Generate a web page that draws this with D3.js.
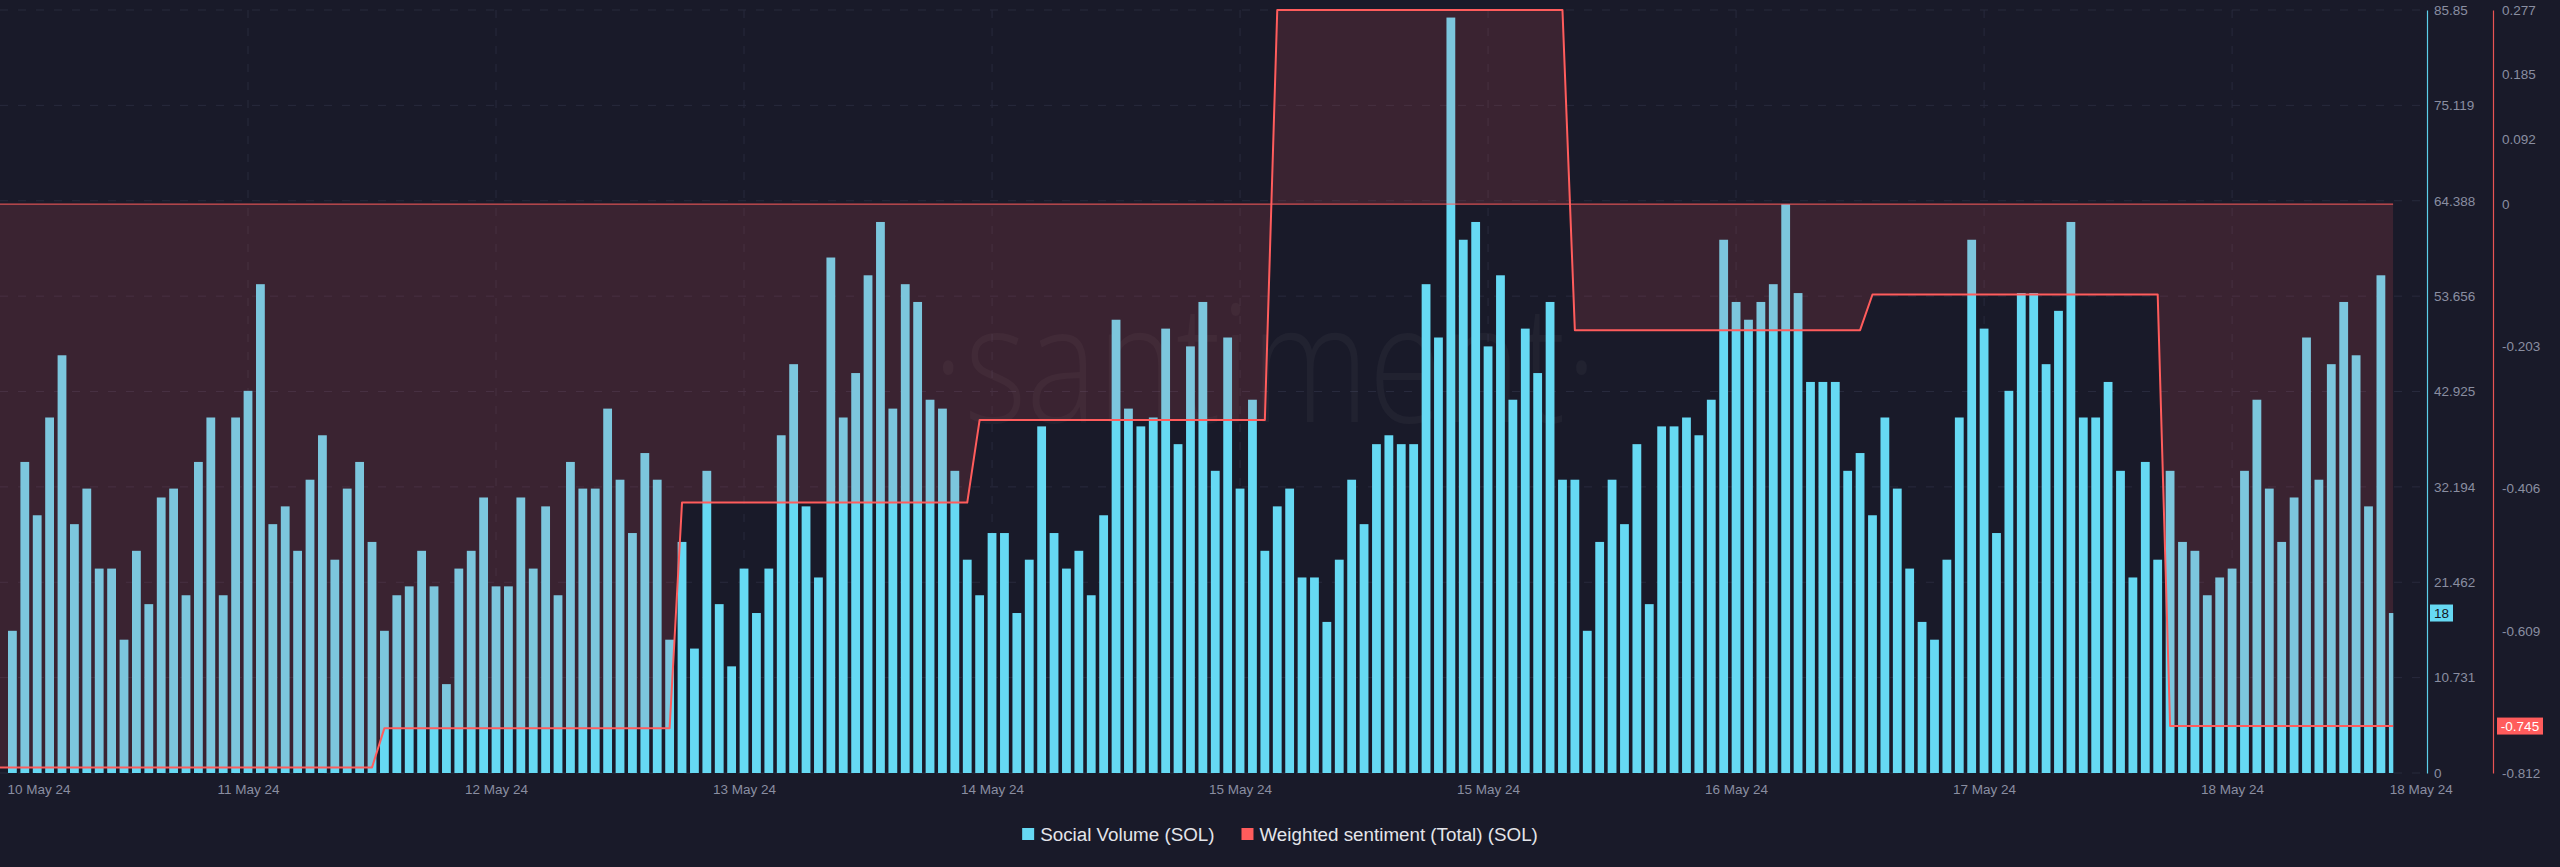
<!DOCTYPE html>
<html><head><meta charset="utf-8">
<script src="https://cdn.jsdelivr.net/npm/d3@7"></script>
<style>
html,body{margin:0;padding:0;background:#191a29;overflow:hidden;}
svg{display:block;}
</style></head><body>
<svg id="chart" width="2560" height="867"></svg>
<script>
// ---- data ----
const socialVolume = [
  16,35,29,40,47,28,32,23,23,15,
  25,19,31,32,20,35,40,20,40,43,
  55,28,30,25,33,38,24,32,35,26,
  16,20,21,25,21,10,23,25,31,21,
  21,31,23,30,20,35,32,32,41,33,
  27,36,33,15,26,14,34,19,12,23,
  18,23,38,46,30,22,58,40,45,56,
  62,41,55,53,42,41,34,24,20,27,
  27,18,24,39,27,23,25,20,29,51,
  41,39,40,50,37,48,53,34,49,32,
  42,25,30,32,22,22,17,24,33,28,
  37,38,37,37,55,49,85,60,62,48,
  56,42,50,45,53,33,33,16,26,33,
  28,37,19,39,39,40,38,42,60,53,
  51,53,55,64,54,44,44,44,34,36,
  29,40,32,23,17,15,24,40,60,50,
  27,43,54,54,46,52,62,40,40,44,
  34,22,35,24,34,26,25,20,22,23,
  34,42,32,26,31,49,33,46,53,47,
  30,56,18
];
// weighted sentiment: constant levels over hourly index ranges
const sentimentLevels = [-0.804, -0.748, -0.426, -0.308, 0.277, -0.180, -0.129, -0.745];
const sentimentStart  = [-1, 30, 54, 78, 102, 126, 150, 174];
const sentimentEnd    = [29, 53, 77, 101, 125, 149, 173, 192];

const volumeTicks = [0, 10.731, 21.462, 32.194, 42.925, 53.656, 64.388, 75.119, 85.85];
const sentimentTicks = [0.277, 0.185, 0.092, 0, -0.203, -0.406, -0.609, -0.812];
const xTickIndex = [-1, 19, 39, 59, 79, 99, 119, 139, 159, 179, 192];
const xTickLabels = ["10 May 24","11 May 24","12 May 24","13 May 24","14 May 24","15 May 24","15 May 24","16 May 24","17 May 24","18 May 24","18 May 24"];
const legendLabels = ["Social Volume (SOL)", "Weighted sentiment (Total) (SOL)"];
const watermarkText = "\u00B7santiment\u00B7";

// ---- styling / layout ----
const C = {
  bg:"#191a29", grid:"#282a3d", bar:"#66d9f3", red:"#ff5c5c", fill:"rgba(255,90,97,0.145)",
  tick:"#8a8ea1", legend:"#e4e5ea", cyanAxis:"#5ccfea", redAxis:"#e85454"
};
const plotTop = 10, plotBottom = 773, plotRight = 2393.3;
const volAxisX = 2427, sentAxisX = 2493;

const svg = d3.select("#chart");
svg.append("rect").attr("width",2560).attr("height",867).attr("fill",C.bg);

const N = socialVolume.length;
const x = d3.scaleLinear().domain([-1, N-1]).range([0, plotRight]);
const yV = d3.scaleLinear().domain([0, 85.85]).range([plotBottom, plotTop]);
const yS = d3.scaleLinear().domain([-0.812, 0.277]).range([plotBottom, plotTop]);
const step = x(1) - x(0);
const barW = step * 0.71;

svg.append("defs").append("clipPath").attr("id","plotClip")
  .append("rect").attr("x",0).attr("y",0).attr("width",plotRight).attr("height",plotBottom);

// gridlines
const grid = svg.append("g");
grid.selectAll("line.h").data(volumeTicks).join("line")
  .attr("x1",0).attr("x2",2420).attr("y1",d=>yV(d)).attr("y2",d=>yV(d))
  .attr("stroke",C.grid).attr("stroke-width",1).attr("stroke-dasharray","8,10");
grid.selectAll("line.v").data(xTickIndex.slice(1,-1)).join("line")
  .attr("x1",d=>x(d)).attr("x2",d=>x(d)).attr("y1",plotTop).attr("y2",plotBottom)
  .attr("stroke",C.grid).attr("stroke-width",1).attr("stroke-dasharray","8,10");

// watermark
svg.append("text").text(watermarkText)
  .attr("x", x(101)).attr("y", 422)
  .attr("text-anchor","middle")
  .attr("font-family","'Open Sans', sans-serif").attr("font-weight",300)
  .attr("font-size",164)
  .attr("textLength",665).attr("lengthAdjust","spacingAndGlyphs")
  .attr("fill","#ffffff").attr("fill-opacity",0.035);

const plot = svg.append("g").attr("clip-path","url(#plotClip)");

// bars
plot.selectAll("rect.bar").data(socialVolume).join("rect")
  .attr("class","bar")
  .attr("x",(d,i)=>x(i)-barW/2).attr("width",barW)
  .attr("y",d=>yV(d)).attr("height",d=>yV(0)-yV(d))
  .attr("fill",C.bar);

// sentiment vertices
const sentPts = [];
sentimentLevels.forEach((v,k)=>{
  sentPts.push([sentimentStart[k], v]);
  sentPts.push([sentimentEnd[k], v]);
});

plot.append("path").datum(sentPts)
  .attr("d", d3.area().x(d=>x(d[0])).y0(yS(0)).y1(d=>yS(d[1])))
  .attr("fill",C.fill);

plot.append("line")
  .attr("x1",x(-1)).attr("x2",x(N-1)).attr("y1",yS(0)).attr("y2",yS(0))
  .attr("stroke",C.red).attr("stroke-width",1.2).attr("stroke-opacity",0.8);

plot.append("path").datum(sentPts)
  .attr("d", d3.line().x(d=>x(d[0])).y(d=>yS(d[1])))
  .attr("fill","none").attr("stroke",C.red).attr("stroke-width",2).attr("stroke-linejoin","round");

// axes
const fontAxis = "'Liberation Sans', Arial, sans-serif";
const vAxis = svg.append("g").attr("transform",`translate(${volAxisX},0)`)
  .call(d3.axisRight(yV).tickValues(volumeTicks).tickFormat(d=>String(d)).tickSize(0).tickPadding(7));
vAxis.select(".domain").attr("stroke",C.cyanAxis).attr("stroke-width",1.2);
vAxis.selectAll("text").attr("fill",C.tick).attr("font-family",fontAxis).attr("font-size",13.5);

const sAxis = svg.append("g").attr("transform",`translate(${sentAxisX},0)`)
  .call(d3.axisRight(yS).tickValues(sentimentTicks).tickFormat(d=>String(d)).tickSize(0).tickPadding(9));
sAxis.select(".domain").attr("stroke",C.redAxis).attr("stroke-width",1.2);
sAxis.selectAll("text").attr("fill",C.tick).attr("font-family",fontAxis).attr("font-size",13.5);

const xAxis = svg.append("g").attr("transform",`translate(0,${plotBottom})`)
  .call(d3.axisBottom(x).tickValues(xTickIndex).tickFormat((d,i)=>xTickLabels[i]).tickSize(0).tickPadding(11));
xAxis.select(".domain").remove();
xAxis.selectAll("text").attr("fill",C.tick).attr("font-family",fontAxis).attr("font-size",13.5);
xAxis.selectAll(".tick").filter((d,i)=>i===0).select("text").attr("text-anchor","start").attr("dx",7);
xAxis.selectAll(".tick").filter((d,i)=>i===xTickIndex.length-1).select("text").attr("text-anchor","start").attr("dx",-4);

// last-value badges
const lastVol = socialVolume[N-1];
const lastSent = sentimentLevels[sentimentLevels.length-1];
function badge(ax, yv, label, bg, fg, w){
  const g = svg.append("g").attr("transform",`translate(${ax},${yv})`);
  g.append("rect").attr("x",0).attr("y",-8.5).attr("width",w).attr("height",17).attr("fill",bg);
  g.append("text").attr("x",w/2).attr("y",0).attr("dy","0.35em").attr("text-anchor","middle")
    .attr("font-family",fontAxis).attr("font-size",13.5).attr("fill",fg).text(label);
}
badge(volAxisX+3, yV(lastVol), String(lastVol), C.bar, "#15161f", 23);
badge(sentAxisX+4, yS(lastSent), String(lastSent), C.red, "#ffffff", 46);

// legend
const legend = svg.append("g");
const legendColors = [C.bar, C.red];
const items = legend.selectAll("g").data(legendLabels).join("g");
items.append("rect").attr("width",12).attr("height",12).attr("y",-6).attr("fill",(d,i)=>legendColors[i]);
items.append("text").attr("x",18).attr("y",0).attr("dy","0.35em").text(d=>d)
  .attr("font-family",fontAxis).attr("font-size",18.8).attr("fill",C.legend);
let widths = [];
items.each(function(){ widths.push(18 + d3.select(this).select("text").node().getComputedTextLength()); });
const gap = 27;
const total = d3.sum(widths) + gap*(widths.length-1);
let cx = 1280 - total/2;
items.attr("transform",(d,i)=>{ const t=`translate(${cx},834)`; cx += widths[i]+gap; return t; });
</script>
</body></html>
